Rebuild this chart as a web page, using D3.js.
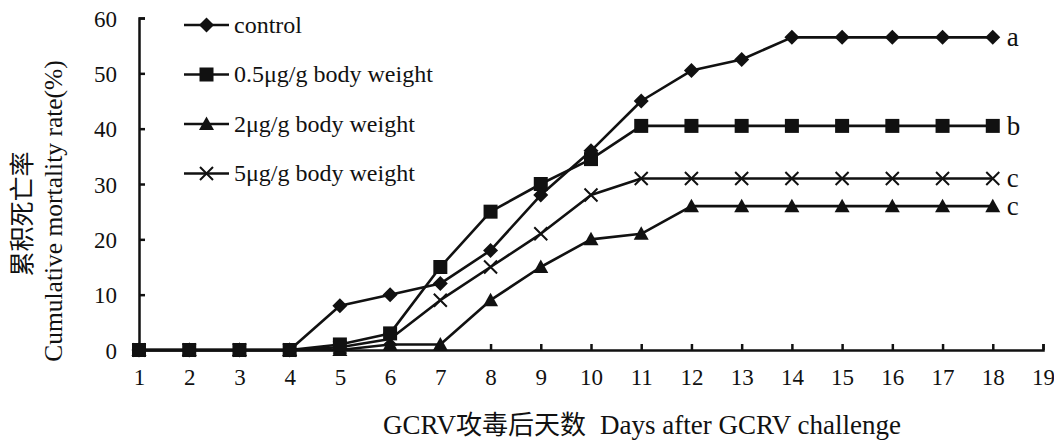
<!DOCTYPE html>
<html>
<head>
<meta charset="utf-8">
<script src="https://cdn.jsdelivr.net/npm/d3@7/dist/d3.min.js"></script>
<style>
  html, body { margin: 0; padding: 0; background: #fff; }
  svg { display: block; }
  text { font-family: "Liberation Serif", "Times New Roman", serif; fill: #111; }
  .cjk { font-family: "Noto Sans CJK SC", sans-serif; }
</style>
</head>
<body>
<svg id="chart" width="1054" height="446"></svg>
<script>
// Cumulative mortality (%) per day after GCRV challenge
const days = d3.range(1, 19);
const xTicks = d3.range(1, 20);
const yTicks = [0, 10, 20, 30, 40, 50, 60];

const seriesNames = ["control", "0.5μg/g body weight", "2μg/g body weight", "5μg/g body weight"];
const markers = ["diamond", "square", "triangle", "cross"];
const groupLetters = ["a", "b", "c", "c"];

const control = [0, 0, 0, 0, 8, 10, 12, 18, 28, 36, 45, 50.5, 52.5, 56.5, 56.5, 56.5, 56.5, 56.5];
const dose05  = [0, 0, 0, 0, 1, 3, 15, 25, 30, 34.5, 40.5, 40.5, 40.5, 40.5, 40.5, 40.5, 40.5, 40.5];
const dose2   = [0, 0, 0, 0, 0, 1, 1, 9, 15, 20, 21, 26, 26, 26, 26, 26, 26, 26];
const dose5   = [0, 0, 0, 0, 0.5, 2, 9, 15, 21, 28, 31, 31, 31, 31, 31, 31, 31, 31];

const seriesValues = [control, dose05, dose2, dose5];

const svg = d3.select("#chart");
const plotLeft = 139, plotRight = 1043, plotTop = 18, plotBottom = 350;

const x = d3.scaleLinear().domain([1, 19]).range([plotLeft, plotRight]);
const y = d3.scaleLinear().domain([0, 60]).range([plotBottom, plotTop]);

const ink = "#111";

// axes: ticks point inward
const xAxis = d3.axisBottom(x).tickValues(xTicks).tickSize(-6).tickPadding(19).tickFormat(d3.format("d"));
const yAxis = d3.axisLeft(y).tickValues(yTicks).tickSize(-6).tickPadding(22).tickFormat(d3.format("d"));

const gx = svg.append("g").attr("transform", `translate(0,${plotBottom})`).call(xAxis);
const gy = svg.append("g").attr("transform", `translate(${plotLeft},0)`).call(yAxis);
[gx, gy].forEach(g => {
  g.select(".domain").attr("stroke", ink).attr("stroke-width", 2.5);
  g.selectAll(".tick line").attr("stroke", ink).attr("stroke-width", 2.5);
  g.selectAll(".tick text").attr("fill", ink)
    .style("font-family", '"Liberation Serif", serif').style("font-size", "23px");
});
gx.selectAll(".tick text").attr("dy", "0.71em");
gy.selectAll(".tick text").attr("dy", "0.35em");

// marker shapes
function drawMarker(g, type, cx, cy) {
  if (type === "diamond") {
    g.append("path").attr("d", `M${cx},${cy - 7.5}L${cx + 7.5},${cy}L${cx},${cy + 7.5}L${cx - 7.5},${cy}Z`).attr("fill", ink);
  } else if (type === "square") {
    g.append("rect").attr("x", cx - 7).attr("y", cy - 7).attr("width", 14).attr("height", 14).attr("fill", ink);
  } else if (type === "triangle") {
    g.append("path").attr("d", `M${cx},${cy - 7.5}L${cx + 7.5},${cy + 6}L${cx - 7.5},${cy + 6}Z`).attr("fill", ink);
  } else if (type === "cross") {
    g.append("path").attr("d", `M${cx - 6.5},${cy - 6.5}L${cx + 6.5},${cy + 6.5}M${cx - 6.5},${cy + 6.5}L${cx + 6.5},${cy - 6.5}`)
      .attr("stroke", ink).attr("stroke-width", 2).attr("fill", "none");
  }
}

const line = d3.line().x((d, i) => x(days[i])).y(d => y(d));

// draw lower-listed series first so the control line sits on top
[2, 3, 1, 0].forEach(s => {
  const g = svg.append("g");
  g.append("path").datum(seriesValues[s]).attr("d", line)
    .attr("fill", "none").attr("stroke", ink).attr("stroke-width", 2.6).attr("stroke-linejoin", "round");
  seriesValues[s].forEach((v, i) => drawMarker(g, markers[s], x(days[i]), y(v)));
  g.append("text").attr("x", x(18) + 14).attr("y", y(seriesValues[s][17]))
    .attr("dy", "0.33em").style("font-size", "27px").text(groupLetters[s]);
});

// legend
const legend = svg.append("g");
seriesNames.forEach((name, i) => {
  const ly = 25 + i * 49.5;
  legend.append("line").attr("x1", 184).attr("x2", 229).attr("y1", ly).attr("y2", ly)
    .attr("stroke", ink).attr("stroke-width", 2.6);
  drawMarker(legend, markers[i], 206.5, ly);
  legend.append("text").attr("x", 234).attr("y", ly).attr("dy", "0.33em")
    .style("font-size", "24px").text(name);
});

// axis titles
svg.append("text").attr("x", 642).attr("y", 434).attr("text-anchor", "middle")
  .style("font-size", "27px")
  .call(t => {
    t.append("tspan").text("GCRV");
    t.append("tspan").attr("class", "cjk").style("font-size", "26px").text("攻毒后天数");
    t.append("tspan").attr("dx", 14).text("Days after GCRV challenge");
  });

svg.append("text").attr("class", "cjk")
  .attr("transform", "translate(22,214) rotate(-90)")
  .attr("text-anchor", "middle").attr("dy", "0.35em")
  .style("font-size", "25px").style("font-family", '"Noto Sans CJK SC", sans-serif')
  .text("累积死亡率");

svg.append("text")
  .attr("transform", "translate(62,211) rotate(-90)")
  .attr("text-anchor", "middle")
  .style("font-size", "25.5px")
  .text("Cumulative mortality rate(%)");
</script>
</body>
</html>
